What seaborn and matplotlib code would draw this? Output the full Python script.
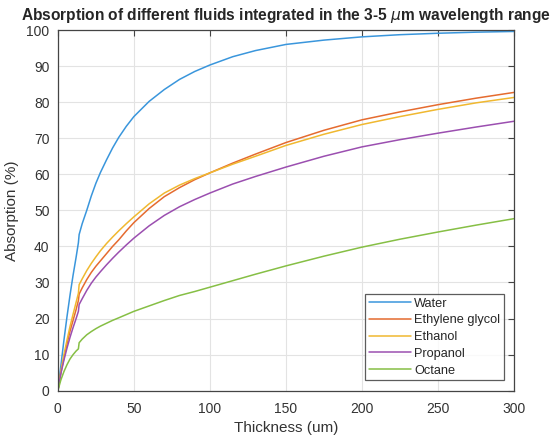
import matplotlib
matplotlib.use('Agg')
import matplotlib.pyplot as plt
import numpy as np
import pandas as pd
import seaborn as sns

# thickness grid (um) shared by all fluids
thickness = [0, 2, 4, 6, 8, 10, 12, 13.5, 14, 16, 19, 22, 25, 28, 32, 36, 40, 45, 50,
             60, 70, 80, 90, 100, 115, 130, 150, 175, 200, 225, 250, 275, 300]

water = [0, 7, 14, 20.5, 26.5, 32, 37, 41, 43.3, 46.3, 50, 54, 57.5, 60.5, 64, 67.3,
         70.2, 73.3, 76, 80.2, 83.5, 86.3, 88.5, 90.3, 92.6, 94.3, 96, 97.2, 98.1,
         98.7, 99.1, 99.4, 99.6]
ethylene_glycol = [0, 5, 9, 13, 16.5, 19.5, 22.5, 25, 26.8, 28.5, 30.8, 32.8, 34.5, 36,
                   38, 40, 41.8, 44.3, 46.6, 50.5, 53.8, 56.3, 58.5, 60.4, 63.1, 65.6,
                   68.8, 72.2, 75.1, 77.3, 79.3, 81.1, 82.7]
ethanol = [0, 5.5, 10, 14, 17.8, 21.2, 24.5, 27, 29.4, 31, 33.3, 35.3, 37.1, 38.8, 40.8,
           42.6, 44.3, 46.3, 48.2, 51.8, 54.8, 57.0, 58.8, 60.4, 62.8, 65.0, 68.0,
           71.1, 73.8, 76.0, 78.0, 79.8, 81.3]
propanol = [0, 4.8, 8.5, 11.8, 14.8, 17.5, 20, 22, 23.9, 25.5, 27.8, 29.8, 31.5, 33,
            34.9, 36.7, 38.4, 40.4, 42.3, 45.7, 48.6, 51, 53, 54.8, 57.3, 59.4, 62,
            65, 67.6, 69.6, 71.4, 73.1, 74.7]
octane = [0, 3, 5.3, 7.2, 8.8, 10, 11, 11.6, 13.3, 14.3, 15.5, 16.4, 17.2, 17.9, 18.7,
          19.5, 20.2, 21.1, 22, 23.5, 25, 26.4, 27.5, 28.7, 30.5, 32.3, 34.6, 37.3,
          39.8, 42, 44, 45.9, 47.7]

fluids = ['Water', 'Ethylene glycol', 'Ethanol', 'Propanol', 'Octane']
colours = ['#3a96dc', '#e56b2f', '#f0b830', '#9b4fb0', '#86bf45']

frames = []
for name, vals in zip(fluids, [water, ethylene_glycol, ethanol, propanol, octane]):
    frames.append(pd.DataFrame({'Thickness': thickness, 'Absorption': vals, 'Fluid': name}))
df = pd.concat(frames, ignore_index=True)

sns.set_style('white')
plt.rcParams['font.family'] = ['Liberation Sans', 'DejaVu Sans']

fig, ax1 = plt.subplots(figsize=(5.51, 4.38), dpi=100)
fig.subplots_adjust(left=0.105, right=0.933, top=0.9315, bottom=0.108)

sns.lineplot(data=df, x='Thickness', y='Absorption', hue='Fluid', hue_order=fluids,
             palette=colours, estimator=None, sort=False, linewidth=1.1, ax=ax1)

ax1.set_xlim(0, 300)
ax1.set_ylim(0, 100)
ax1.set_xticks(np.arange(0, 301, 50))
ax1.set_yticks(np.arange(0, 101, 10))
ax1.grid(True, color='#e3e3e3', linewidth=0.8)
ax1.set_axisbelow(True)
for s in ax1.spines.values():
    s.set_visible(True)
    s.set_color('#444444')
    s.set_linewidth(0.9)
ax1.tick_params(direction='in', length=4, width=0.8, color='#444444',
                top=True, right=True, labelsize=10, labelcolor='#333333', pad=6)
ax1.tick_params(axis='x', pad=8)

ax1.set_xlabel('Thickness (um)', fontsize=11, color='#333333', labelpad=3.5)
ax1.set_ylabel('Absorption (%)', fontsize=11, color='#333333', labelpad=5)
ax1.set_title(r'Absorption of different fluids integrated in the 3-5 $\mu$m wavelength range',
              fontsize=11.2, fontweight='bold', pad=7)

handles, labels = ax1.get_legend_handles_labels()
leg = ax1.legend(handles, labels, loc='lower right', fontsize=9.2, frameon=True,
                 fancybox=False, edgecolor='#333333', handlelength=3.3,
                 borderaxespad=0.8, labelspacing=0.37, handletextpad=0.25,
                 borderpad=0.3)
leg.get_frame().set_linewidth(0.9)

fig.savefig('out.png', dpi=100)
